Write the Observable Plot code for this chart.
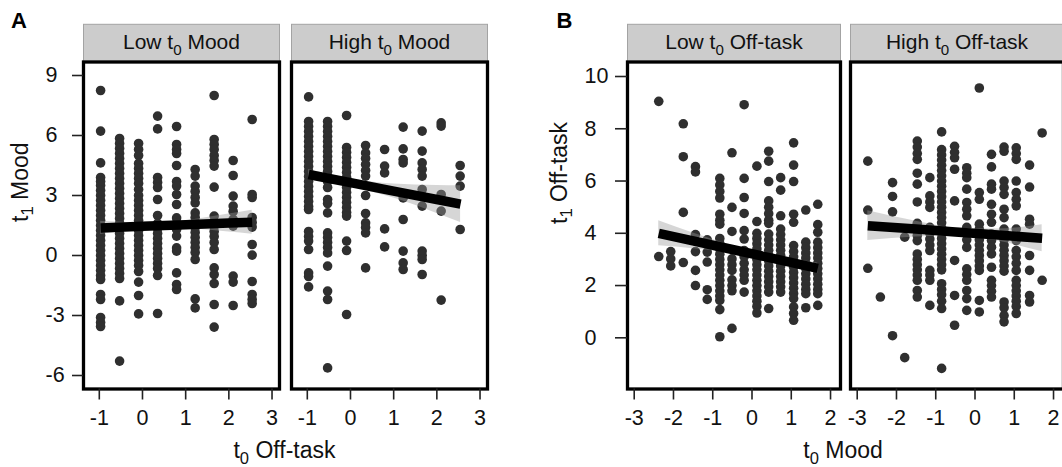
<!DOCTYPE html>
<html><head><meta charset="utf-8">
<script src="https://cdn.jsdelivr.net/npm/d3@7"></script>
<script src="https://cdn.jsdelivr.net/npm/@observablehq/plot@0.6"></script>
<style>
body{margin:0;background:#fff;}
#wrap{position:relative;width:1062px;height:467px;overflow:hidden;background:#fff;}
#A,#B{position:absolute;top:0;}
#A{left:0;width:531px;} #B{left:531px;width:540px;}
#wrap svg{max-width:none !important;}
</style></head><body>
<div id="wrap"><div id="A"></div><div id="B"></div></div>
<script>
// ---------- Panel A: t1 Mood vs t0 Off-task ----------
const offTaskLevels = [-0.97, -0.53, -0.09, 0.35, 0.79, 1.22, 1.66, 2.10, 2.54];
const lowMoodT1 = [
  [8.25, 6.22, 4.63, 3.9, 3.7, 3.5, 3.25, 3.0, 2.75, 2.5, 2.25, 2.0, 1.75, 1.5, 1.25, 1.0, 0.75, 0.5, 0.25, 0, -0.25, -0.5, -0.75, -1.0, -1.2, -1.95, -2.2, -3.1, -3.35, -3.55],
  [5.85, 5.6, 5.35, 5.1, 4.85, 4.6, 4.35, 4.1, 3.85, 3.6, 3.35, 3.1, 2.85, 2.6, 2.35, 2.1, 1.85, 1.6, 1.35, 1.1, 0.85, 0.6, 0.35, 0.1, -0.15, -0.4, -0.65, -0.9, -1.15, -2.27, -5.28],
  [5.6, 5.3, 5.0, 4.6, 4.35, 4.1, 3.85, 3.6, 3.3, 3.0, 2.75, 2.5, 2.25, 2.0, 1.75, 1.5, 1.25, 1.0, 0.75, 0.5, 0.25, 0, -0.25, -0.5, -0.8, -1.33, -2.0, -2.92],
  [6.97, 6.33, 3.9, 3.65, 3.4, 2.8, 2.0, 1.6, 1.35, 1.1, 0.85, 0.6, 0.35, 0.1, -0.15, -0.4, -0.65, -1.0, -2.9],
  [6.45, 5.55, 5.3, 5.1, 4.5, 3.7, 3.47, 3.05, 2.55, 1.88, 1.63, 1.3, 0.97, 0.38, 0.22, -0.87, -1.45, -1.7],
  [4.3, 3.97, 3.47, 3.2, 2.9, 2.63, 2.13, 1.9, 1.65, 1.4, 1.15, 0.9, 0.65, 0.4, 0.15, -0.2, -2.17, -2.62],
  [8.0, 5.8, 5.55, 5.3, 5.0, 4.75, 4.47, 3.42, 1.97, 1.7, 1.45, 1.2, 0.95, 0.65, 0.3, -0.62, -0.95, -1.4, -2.45, -3.58],
  [4.75, 4.0, 2.97, 2.47, 2.2, 1.8, 1.47, -1.03, -1.33, -2.5],
  [6.8, 3.05, 2.9, 1.9, 1.65, 1.42, 0.55, 0.02, -1.3, -1.95, -2.2, -2.4]
];
const highMoodT1 = [
  [7.93, 6.7, 6.45, 6.2, 5.95, 5.7, 5.45, 5.2, 4.95, 4.7, 4.45, 4.2, 3.95, 3.7, 3.45, 3.2, 2.95, 2.7, 2.45, 2.3, 1.2, 0.95, 0.72, 0.3, -0.87, -1.05, -1.57],
  [6.7, 6.45, 6.2, 5.95, 5.7, 5.45, 5.2, 4.95, 4.7, 4.45, 4.2, 3.95, 3.7, 3.4, 2.8, 2.6, 2.13, 1.13, 0.9, 0.65, 0.4, 0.13, -0.53, -1.78, -2.2, -5.62],
  [7.0, 5.4, 5.15, 4.9, 4.65, 4.4, 4.15, 3.9, 3.65, 3.4, 3.15, 2.9, 2.65, 2.4, 2.15, 1.97, 0.72, 0.25, -2.95],
  [5.5, 5.13, 4.85, 4.55, 4.25, 3.97, 3.0, 2.1, 1.63, 1.4, 1.13, -0.62],
  [5.3, 4.47, 4.13, 1.33, 0.43],
  [6.42, 5.33, 4.8, 4.63, 2.88, 1.8, 0.22, -0.37, -0.7],
  [6.22, 5.22, 4.63, 4.3, 3.97, 3.3, 2.47, 0.22, 0, -0.2, -0.95],
  [6.63, 6.47, 3.05, 2.22, -2.23],
  [4.5, 3.97, 3.47, 1.3]
];
// fitted lines and 95% bands
const lowMoodFitX = [-0.97, 0, 1, 2, 2.54];
const lowMoodFitY = [1.38, 1.46, 1.54, 1.62, 1.66];
const lowMoodLo = [1.05, 1.29, 1.34, 1.17, 1.06];
const lowMoodHi = [1.71, 1.63, 1.74, 2.07, 2.26];
const highMoodFitX = [-0.97, 0, 1, 2, 2.55];
const highMoodFitY = [4.05, 3.64, 3.22, 2.80, 2.57];
const highMoodLo = [3.80, 3.44, 2.87, 2.10, 1.65];
const highMoodHi = [4.30, 3.84, 3.57, 3.50, 3.49];
const facetsA = ["low", "high"];
const stripA = ["Low t_0 Mood", "High t_0 Mood"];
const xTicksA = [-1, 0, 1, 2, 3];
const yTicksA = [-6, -3, 0, 3, 6, 9];

// ---------- Panel B: t1 Off-task vs t0 Mood ----------
const lowOffMood = [-2.375, -2.07, -1.75, -1.44, -1.14, -0.82, -0.51, -0.2, 0.125, 0.425, 0.73, 1.06, 1.37, 1.675];
const lowOffT1 = [
  [9.05, 3.11],
  [3.3, 3.02, 2.75],
  [8.19, 6.93, 4.8, 2.88],
  [6.55, 6.35, 3.95, 3.7, 3.3, 2.58, 2.0],
  [3.75, 3.28, 2.9, 1.84, 1.47],
  [6.1, 5.85, 5.6, 5.35, 4.73, 4.5, 4.35, 3.8, 3.6, 3.4, 3.2, 3.0, 2.8, 2.6, 2.4, 2.2, 2.0, 1.8, 1.6, 1.43, 1.08, 0.04],
  [7.08, 4.99, 4.07, 3.02, 2.8, 2.58, 2.22, 2.0, 1.8, 0.36],
  [8.92, 6.1, 5.37, 4.76, 4.1, 3.78, 3.34, 3.1, 2.85, 2.6, 2.4, 2.2, 1.75],
  [6.57, 4.45, 4.0, 3.8, 3.6, 3.4, 3.2, 3.0, 2.8, 2.6, 2.4, 2.2, 2.0, 1.8, 1.6, 1.4, 1.2, 0.95],
  [7.14, 6.76, 5.98, 5.24, 5.0, 4.75, 4.5, 4.38, 3.97, 3.75, 3.55, 3.35, 3.15, 2.95, 2.75, 2.55, 2.35, 2.15, 1.95, 1.75, 1.12],
  [6.13, 5.65, 4.67, 4.16, 3.95, 3.75, 3.55, 3.35, 3.15, 2.95, 2.75, 2.55, 2.35, 2.15, 1.95, 1.75],
  [7.46, 6.61, 5.98, 4.73, 4.42, 3.53, 3.3, 3.1, 2.9, 2.7, 2.5, 2.3, 2.1, 1.9, 1.7, 1.5, 1.18, 0.93, 0.67],
  [4.89, 3.66, 3.45, 3.25, 3.05, 2.85, 2.65, 2.45, 2.25, 2.05, 1.85, 1.69, 1.15],
  [5.11, 4.33, 4.04, 3.66, 3.45, 3.25, 3.05, 2.85, 2.65, 2.45, 2.25, 2.05, 1.85, 1.69, 1.24]
];
const highOffMood = [-2.73, -2.41, -2.10, -1.79, -1.47, -1.15, -0.85, -0.52, -0.21, 0.11, 0.42, 0.74, 1.05, 1.39, 1.71];
const highOffT1 = [
  [6.76, 4.89, 2.66],
  [1.56],
  [5.94, 5.41, 4.82, 0.08],
  [3.85, -0.76],
  [7.53, 7.3, 7.05, 6.83, 6.3, 5.88, 5.2, 4.38, 4.15, 3.92, 3.72, 3.21, 3.0, 2.8, 2.6, 2.4, 2.2, 1.81, 1.56],
  [6.13, 5.43, 5.2, 4.99, 4.23, 4.0, 3.78, 3.55, 3.34, 2.58, 2.4, 2.2, 1.24],
  [7.88, 7.2, 7.0, 6.8, 6.6, 6.4, 6.2, 6.0, 5.8, 5.6, 5.4, 5.2, 5.0, 4.8, 4.6, 4.4, 4.2, 4.0, 3.8, 3.6, 3.4, 3.2, 3.0, 2.8, 2.6, 2.07, 1.85, 1.65, 1.4, 1.12, -1.17],
  [7.33, 7.1, 6.89, 6.45, 5.24, 2.96, 1.62, 0.48],
  [6.51, 6.3, 6.13, 5.69, 5.18, 4.92, 4.67, 4.23, 4.0, 3.75, 3.46, 2.64, 2.42, 2.2, 1.81, 1.5, 1.05],
  [9.56, 5.56, 5.3, 4.35, 4.15, 3.95, 3.75, 3.55, 3.35, 3.15, 2.95, 2.75, 2.58, 1.43, 0.99],
  [7.02, 6.54, 5.88, 5.69, 5.11, 4.73, 4.42, 3.97, 3.72, 3.47, 3.21, 2.7, 2.2, 2.0, 1.78, 1.56],
  [7.3, 7.14, 6.0, 5.75, 5.49, 4.92, 4.6, 4.16, 3.95, 3.75, 3.55, 3.35, 3.15, 2.95, 2.75, 2.55, 1.37, 1.15, 0.85, 0.61],
  [7.27, 7.05, 6.83, 6.0, 5.56, 5.3, 5.05, 4.16, 3.95, 3.72, 3.34, 3.1, 2.85, 2.58, 2.2, 2.0, 1.8, 1.6, 1.4, 1.2, 0.93],
  [6.61, 5.77, 4.54, 4.35, 3.15, 2.58, 1.62, 1.37],
  [7.84, 2.2]
];
const lowOffFitX = [-2.375, -1.5, -0.5, 0.5, 1.675];
const lowOffFitY = [4.0, 3.71, 3.38, 3.05, 2.66];
const lowOffLo = [3.52, 3.41, 3.23, 2.93, 2.46];
const lowOffHi = [4.48, 4.01, 3.53, 3.17, 2.86];
const highOffFitX = [-2.73, -1.5, -0.5, 0.5, 1.71];
const highOffFitY = [4.29, 4.16, 4.05, 3.94, 3.81];
const highOffLo = [3.72, 3.86, 3.90, 3.72, 3.29];
const highOffHi = [4.86, 4.46, 4.20, 4.16, 4.33];
const facetsB = ["low", "high"];
const stripB = ["Low t_0 Off-task", "High t_0 Off-task"];
const xTicksB = [-3, -2, -1, 0, 1, 2];
const yTicksB = [0, 2, 4, 6, 8, 10];

// ---------- helpers ----------
const FONT = '"Liberation Sans", Arial, Helvetica, sans-serif';
const cols = (levels, values, panel) => levels.flatMap((x, i) => values[i].map(y => ({panel, x, y})));
const rows = (xs, ys, lo, hi, panel) => xs.map((x, i) => ({panel, x, y: ys[i], lo: lo[i], hi: hi[i]}));

function subscriptify(svg) {
  const ns = "http://www.w3.org/2000/svg";
  svg.querySelectorAll("text").forEach(t => {
    if (t.querySelector("tspan")) return;
    const s = t.textContent;
    const m = s.match(/^(.*?)_(\d)(.*)$/);
    if (!m) return;
    const fs = parseFloat(getComputedStyle(t).fontSize) || 20;
    t.textContent = "";
    const a = document.createElementNS(ns, "tspan"); a.textContent = m[1];
    const b = document.createElementNS(ns, "tspan"); b.textContent = m[2];
    b.setAttribute("font-size", (fs * 0.72).toFixed(2) + "px");
    b.setAttribute("dy", (fs * 0.26).toFixed(2) + "px");
    const c = document.createElementNS(ns, "tspan"); c.textContent = m[3];
    c.setAttribute("dy", (-fs * 0.26).toFixed(2) + "px");
    t.append(a, b, c);
  });
}

function panel(o) {
  const mt = 61.5, mb = 78.5, H = 467;
  const plotH = H - mt - mb;
  const svg = Plot.plot({
    width: o.width, height: H,
    marginLeft: o.ml, marginRight: o.mr, marginTop: mt, marginBottom: mb,
    style: {fontFamily: FONT, fontSize: "21.5px", color: "#111", background: "transparent", overflow: "visible", maxWidth: "none"},
    x: {domain: o.xDomain, label: null},
    y: {domain: o.yDomain, label: null},
    fx: {domain: o.facets, paddingInner: o.gap, paddingOuter: 0, axis: null, label: null},
    marks: [
      Plot.frame({fill: "#cccccc", stroke: "#a3a3a3", strokeWidth: 1, insetTop: -37.7, insetBottom: plotH}),
      Plot.text(o.facets, {fx: d => d, text: (d, i) => o.strip[i], frameAnchor: "top", lineAnchor: "middle", dy: -19.5, fontSize: 21, fill: "#111"}),
      Plot.dot(o.points, {x: "x", y: "y", fx: "panel", r: 4.8, fill: "#2f2f2f", stroke: null}),
      Plot.areaY(o.fits, {x: "x", y1: "lo", y2: "hi", fx: "panel", fill: "#999999", fillOpacity: 0.4, curve: "monotone-x"}),
      Plot.line(o.fits, {x: "x", y: "y", fx: "panel", stroke: "#000", strokeWidth: 9.5, strokeLinecap: "butt"}),
      Plot.frame({stroke: "#000", strokeWidth: 3.3}),
      Plot.axisX({ticks: o.xTicks, tickFormat: d => String(d), tickSize: 11, tickPadding: 9.5, stroke: "#222", strokeWidth: 1.6, fill: "#111", fontSize: 21.5, label: null}),
      Plot.axisY({ticks: o.yTicks, tickFormat: d => String(d), tickSize: o.yTickSize, tickPadding: o.yTickPad, textAnchor: "start", stroke: "#222", strokeWidth: 1.6, fill: "#111", fontSize: 21.5, label: null}),
      Plot.text([o.xTitle], {frameAnchor: "bottom", dx: o.xTitleDx, dy: 69, lineAnchor: "bottom", facet: "super", fontSize: 23, fill: "#111"}),
      Plot.text([o.yTitle], {frameAnchor: "left", dx: o.yTitleDx, dy: o.yTitleDy, rotate: -90, lineAnchor: "bottom", facet: "super", fontSize: 23, fill: "#111"}),
      Plot.text([o.letter], {frameAnchor: "top-left", dx: o.letterDx, dy: -34, lineAnchor: "bottom", textAnchor: "start", facet: "super", fontSize: 22, fontWeight: "bold", fill: "#000"})
    ]
  });
  document.getElementById(o.el).appendChild(svg);
  subscriptify(svg);
}

panel({
  el: "A", width: 531, ml: 82.5, mr: 44.5,
  xDomain: [-1.366, 3.173], yDomain: [-6.675, 9.675],
  facets: facetsA, strip: stripA, gap: 12 / 208,
  points: [...cols(offTaskLevels, lowMoodT1, "low"), ...cols(offTaskLevels, highMoodT1, "high")],
  fits: [...rows(lowMoodFitX, lowMoodFitY, lowMoodLo, lowMoodHi, "low"), ...rows(highMoodFitX, highMoodFitY, highMoodLo, highMoodHi, "high")],
  xTicks: xTicksA, yTicks: yTicksA, yTickSize: 11, yTickPad: 27,
  xTitle: "t_0 Off-task", xTitleDx: -1, yTitle: "t_1 Mood", yTitleDx: -56, yTitleDy: -3.5,
  letter: "A", letterDx: -72.5
});
panel({
  el: "B", width: 540, ml: 96, mr: 8,
  xDomain: [-3.171, 2.254], yDomain: [-1.959, 10.555],
  facets: facetsB, strip: stripB, gap: 10 / 223,
  points: [...cols(lowOffMood, lowOffT1, "low"), ...cols(highOffMood, highOffT1, "high")],
  fits: [...rows(lowOffFitX, lowOffFitY, lowOffLo, lowOffHi, "low"), ...rows(highOffFitX, highOffFitY, highOffLo, highOffHi, "high")],
  xTicks: xTicksB, yTicks: yTicksB, yTickSize: 12, yTickPad: 31,
  xTitle: "t_0 Mood", xTitleDx: -2.5, yTitle: "t_1 Off-task", yTitleDx: -61, yTitleDy: -1.5,
  letter: "B", letterDx: -71
});
</script>
</body></html>
